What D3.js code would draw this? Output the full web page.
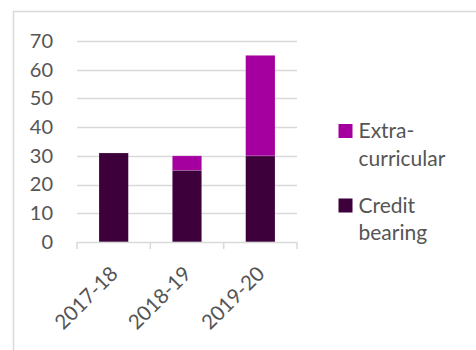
<!DOCTYPE html>
<html>
<head>
<meta charset="utf-8">
<script src="https://cdn.jsdelivr.net/npm/d3@7"></script>
<style>
  body { margin: 0; background: #fff; }
  text { font-family: Lato, "Open Sans", sans-serif; fill: #555555; }
</style>
</head>
<body>
<div id="chart"></div>
<script>
// data
var years = ["2017-18", "2018-19", "2019-20"];
var creditBearing = [31, 25, 30];
var extraCurricular = [0, 5, 35];
var yTicks = [0, 10, 20, 30, 40, 50, 60, 70];
var seriesNames = ["Extra-curricular", "Credit bearing"];
var legendLines = [["Extra-", "curricular"], ["Credit", "bearing"]];

var width = 476, height = 350;
var margin = {top: 41, left: 77, right: 179, bottom: 108};
var plotW = width - margin.left - margin.right,
    plotH = height - margin.top - margin.bottom;

var svg = d3.select('#chart').append('svg')
    .attr('width', width)
    .attr('height', height);

// outer chart border (only top/left visible in the picture)
svg.append('rect')
    .attr('x', 13.5).attr('y', 11.5)
    .attr('width', 480).attr('height', 360)
    .attr('fill', 'none')
    .attr('stroke', '#d9d9d9')
    .attr('stroke-width', 1.5);

var g = svg.append('g')
    .attr('transform', 'translate(' + margin.left + ',' + margin.top + ')');

var x = d3.scaleBand().domain(years).range([0, plotW]).paddingInner(0.6).paddingOuter(0.3);
var xOuter = d3.scaleBand().domain(years).range([0, plotW]);
var y = d3.scaleLinear().domain([0, 70]).range([plotH, 0]);

var colorScale = d3.scaleOrdinal()
    .domain(seriesNames)
    .range(['#a5009f', '#3d003b']);

// gridlines
g.selectAll('.grid').data(yTicks.slice(1))
  .enter().append('line')
    .attr('x1', 0).attr('x2', plotW)
    .attr('y1', function(d) {return Math.round(y(d)) + 0.5;})
    .attr('y2', function(d) {return Math.round(y(d)) + 0.5;})
    .attr('stroke', '#d9d9d9')
    .attr('stroke-width', 1.3);

// stacked data
var rows = years.map(function(d, i) {
  return {year: d, "Credit bearing": creditBearing[i], "Extra-curricular": extraCurricular[i]};
});
var stack = d3.stack().keys(["Credit bearing", "Extra-curricular"]);
var layers = stack(rows);

g.selectAll('.layer').data(layers)
  .enter().append('g')
    .attr('fill', function(d) {return colorScale(d.key);})
  .selectAll('rect').data(function(d) {return d.filter(function(e) {return e[1] > e[0];});})
  .enter().append('rect')
    .attr('x', function(d) {return x(d.data.year);})
    .attr('width', x.bandwidth())
    .attr('y', function(d) {return y(d[1]);})
    .attr('height', function(d) {return y(d[0]) - y(d[1]);})
    .attr('stroke', '#fff')
    .attr('stroke-opacity', 0.3)
    .attr('stroke-width', 0.6);

// y axis labels
var yAxis = d3.axisLeft(y).tickValues(yTicks).tickSize(0).tickPadding(24);
var yg = g.append('g').call(yAxis);
yg.select('.domain').remove();
yg.selectAll('text').style('font-size', '20px').attr('fill', '#555555');

// x axis
var xAxis = d3.axisBottom(xOuter).tickSize(0).tickFormat('');
var xg = g.append('g')
    .attr('transform', 'translate(0,' + plotH + ')')
    .call(xAxis);
xg.select('.domain').attr('stroke', '#d9d9d9').attr('stroke-width', 1.5)
    .attr('d', 'M0,0.5H' + plotW);
var tickPos = [0].concat(years.map(function(d) {return xOuter(d) + xOuter.bandwidth();}));
xg.selectAll('.tk').data(tickPos)
  .enter().append('line')
    .attr('x1', function(d) {return d;}).attr('x2', function(d) {return d;})
    .attr('y1', 0).attr('y2', 7)
    .attr('stroke', '#d9d9d9').attr('stroke-width', 1.5);

xg.selectAll('.xl').data(years)
  .enter().append('text')
    .attr('transform', function(d) {
      return 'translate(' + (xOuter(d) + xOuter.bandwidth() / 2 + 5.5) + ',' + 33 + ') rotate(-45)';
    })
    .attr('text-anchor', 'end')
    .style('font-size', '20.5px')
    .text(function(d) {return d;});

// legend
var legend = svg.append('g').attr('transform', 'translate(338.5,124)');
var item = legend.selectAll('.item').data(seriesNames)
  .enter().append('g')
    .attr('transform', function(d, i) {return 'translate(0,' + (i * 74.5) + ')';});
item.append('rect')
    .attr('width', 14).attr('height', 14)
    .attr('fill', function(d) {return colorScale(d);});
item.append('text')
    .attr('x', 20)
    .attr('y', 14.3)
    .style('font-size', '21px')
  .selectAll('tspan').data(function(d, i) {return legendLines[i];})
  .enter().append('tspan')
    .attr('x', 20)
    .attr('dy', function(d, i) {return i === 0 ? 0 : 27.5;})
    .text(function(d) {return d;});
</script>
</body>
</html>
